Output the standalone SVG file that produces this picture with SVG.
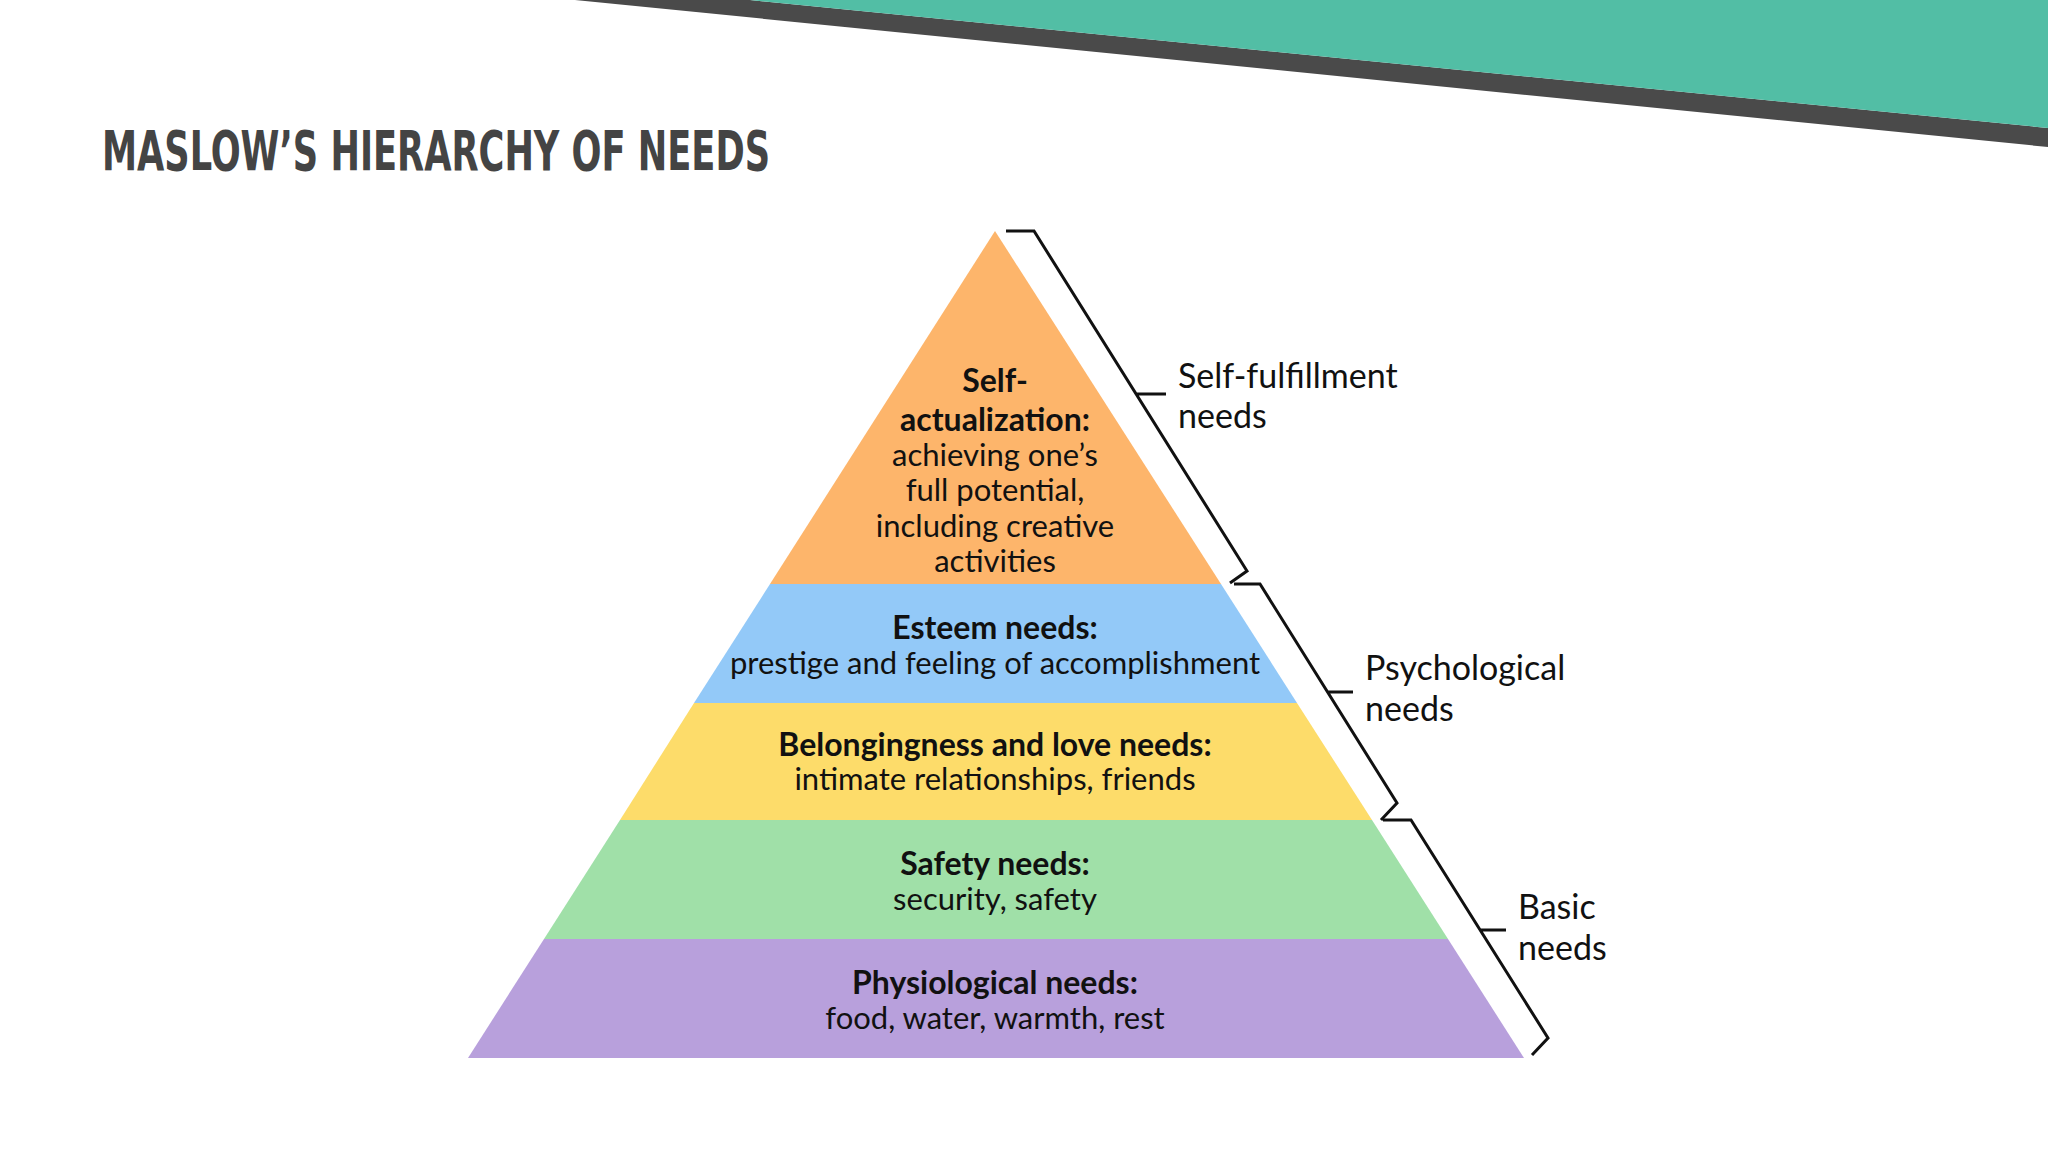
<svg xmlns="http://www.w3.org/2000/svg" width="2048" height="1152" viewBox="0 0 2048 1152">
<style>
.b{font-family:Lato,"Noto Sans",sans-serif;font-weight:bold;font-size:32px;fill:#111;text-anchor:middle}
.r{font-family:Lato,"Noto Sans",sans-serif;font-size:31px;fill:#111;text-anchor:middle}
.l{font-family:Lato,"Noto Sans",sans-serif;font-size:34px;fill:#111}
.br{fill:none;stroke:#111;stroke-width:3}
</style>
<rect width="2048" height="1152" fill="#fff"/>
<g id="banner">
<polygon points="575,0 750,0 2048,128 2048,147" fill="#4a4a4a"/>
<polygon points="750,0 2048,0 2048,128" fill="#52BEA5"/>
</g>
<text x="102" y="170" font-family="'DejaVu Sans Condensed','DejaVu Sans',sans-serif" font-weight="bold" font-size="56" fill="#444" textLength="668" lengthAdjust="spacingAndGlyphs">MASLOW’S HIERARCHY OF NEEDS</text>
<g id="self">
<polygon points="995,231 1221,584 770,584" fill="#FDB56B"/>
<text class="b" x="995" y="392">Self-</text>
<text class="b" x="995" y="431">actualization:</text>
<text class="r" x="995" y="466">achieving one’s</text>
<text class="r" x="995" y="501">full potential,</text>
<text class="r" x="995" y="537">including creative</text>
<text class="r" x="995" y="572">activities</text>
</g>
<g id="esteem">
<polygon points="770,584 1221,584 1297,703 694,703" fill="#93C9F8"/>
<text class="b" x="995" y="639">Esteem needs:</text>
<text class="r" x="995" y="674">prestige and feeling of accomplishment</text>
</g>
<g id="belonging">
<polygon points="694,703 1297,703 1372,820 620,820" fill="#FDDC6A"/>
<text class="b" x="995" y="756">Belongingness and love needs:</text>
<text class="r" x="995" y="790">intimate relationships, friends</text>
</g>
<g id="safety">
<polygon points="620,820 1372,820 1448,939 544,939" fill="#A0E0A8"/>
<text class="b" x="995" y="875">Safety needs:</text>
<text class="r" x="995" y="910">security, safety</text>
</g>
<g id="physio">
<polygon points="544,939 1448,939 1524,1058 468,1058" fill="#B8A0DC"/>
<text class="b" x="995" y="994">Physiological needs:</text>
<text class="r" x="995" y="1029">food, water, warmth, rest</text>
</g>
<g id="connectors">
<path class="br" d="M1006,231 H1034 L1247,571 L1230,583 M1136,394 H1166"/>
<path class="br" d="M1234,584 H1260 L1397,803 L1381,820 M1328,692 H1353"/>
<path class="br" d="M1383,820 H1411 L1548,1038 L1532,1055 M1480,930 H1506"/>
</g>
<g id="labels">
<text class="l" x="1178" y="388">Self-fulfillment</text>
<text class="l" x="1178" y="428">needs</text>
<text class="l" x="1365" y="680">Psychological</text>
<text class="l" x="1365" y="721">needs</text>
<text class="l" x="1518" y="919">Basic</text>
<text class="l" x="1518" y="960">needs</text>
</g>
</svg>
